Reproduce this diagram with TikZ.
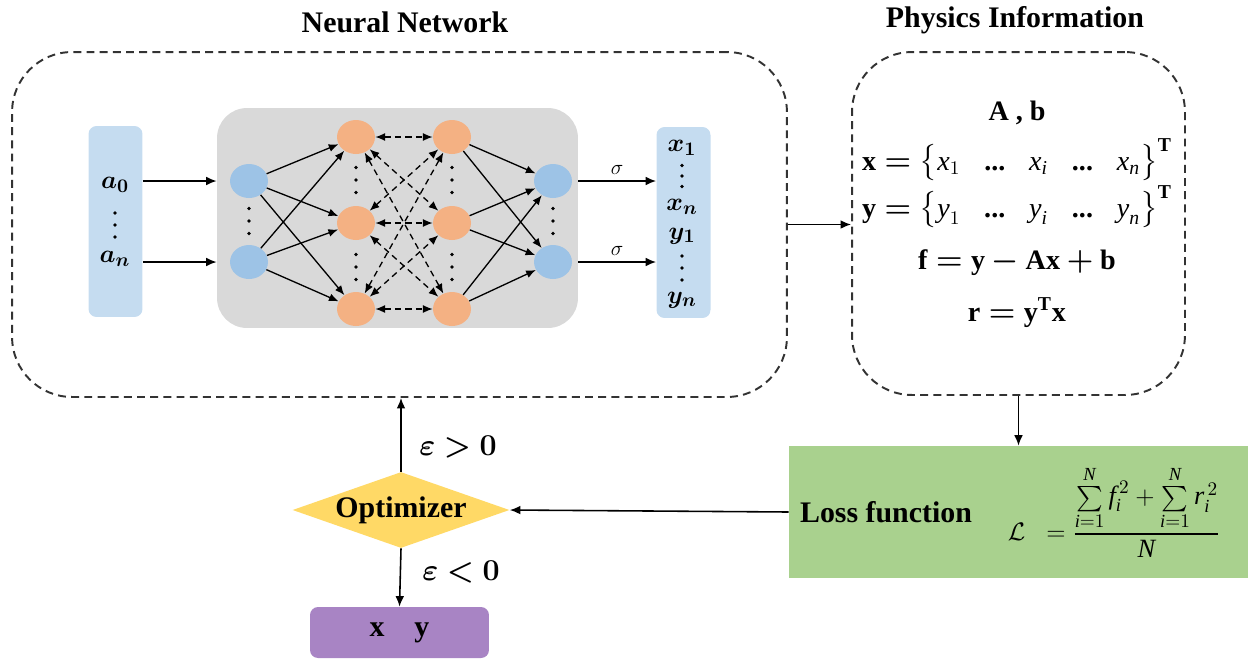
\documentclass[tikz,border=0pt]{standalone}
\usepackage{amsmath}
\usepackage{bm}
\usepackage{fontspec}
\setmainfont{Liberation Serif}
\usetikzlibrary{shapes.geometric,arrows.meta}

\definecolor{inblue}{RGB}{197,220,240}
\definecolor{nodeblue}{RGB}{157,195,230}
\definecolor{nodeorange}{RGB}{244,177,131}
\definecolor{hidgray}{RGB}{217,217,217}
\definecolor{lossgreen}{RGB}{169,209,142}
\definecolor{optyellow}{RGB}{255,217,102}
\definecolor{respurple}{RGB}{168,132,196}

\tikzstyle{frame} = [rectangle, draw=black!80, line width=1.1pt, dash pattern=on 4.5pt off 3pt, rounded corners=1.2cm]
\tikzstyle{heading} = [font=\fontsize{17}{20}\selectfont\bfseries]
\tikzstyle{vecbox} = [rectangle, fill=inblue, rounded corners=0.16cm, minimum width=1.08cm, minimum height=3.82cm]
\tikzstyle{neuron} = [ellipse, minimum width=0.76cm, minimum height=0.68cm, inner sep=0pt]
\tikzstyle{eqline} = [font=\fontsize{16}{19}\selectfont\bfseries, inner sep=1pt]
\tikzstyle{veclabel} = [font=\fontsize{15}{18}\selectfont, inner sep=0pt]
\tikzstyle{arrow} = [-{Latex[length=6pt,width=5pt]}, line width=0.9pt]
\tikzstyle{nnarrow} = [-{Latex[length=5.5pt,width=4.5pt]}, line width=0.75pt]

\newcommand{\colvdots}[3][12.5]{\foreach \dy in {-#1,0,#1} {\fill (#2,#3+\dy) circle (0.038cm);}}
\newcommand{\el}[1]{\textnormal{\textit{#1}}}

\begin{document}
\begin{tikzpicture}[x=0.02cm, y=-0.02cm]
        \useasboundingbox (0,0) rectangle (1248,660);
        % Neural network part
        \node (nnbox) at (399.5,224.5) [frame, minimum width=15.5cm, minimum height=6.9cm] {};
        \node (nntitle) at (405,22) [heading] {Neural Network};
        \node (hidbox) at (397.5,218) [rectangle, fill=hidgray, rounded corners=0.6cm, minimum width=7.22cm, minimum height=4.4cm] {};
        \node (inbox) at (115.5,221.5) [vecbox] {};
        \node (outbox) at (683.5,222.5) [vecbox] {};

        \foreach \n/\y in {1/181, 2/262} {
            \node (i\n) at (249,\y) [neuron, fill=nodeblue] {};
            \node (o\n) at (553,\y) [neuron, fill=nodeblue] {};
        }
        \foreach \n/\y in {1/137, 2/223, 3/309} {
            \node (ha\n) at (356,\y) [neuron, fill=nodeorange] {};
            \node (hb\n) at (452,\y) [neuron, fill=nodeorange] {};
        }
        \foreach \i in {1,2}
            \foreach \j in {1,2,3} {
                \draw[nnarrow] (i\i) -- (ha\j);
                \draw[nnarrow] (hb\j) -- (o\i);
            }
        \foreach \j in {1,2,3}
            \foreach \k in {1,2,3}
                \draw[nnarrow, {Latex[length=5.5pt,width=4.5pt]}-{Latex[length=5.5pt,width=4.5pt]}, dash pattern=on 3.5pt off 2.5pt] (ha\j) -- (hb\k);

        \colvdots{249}{221}
        \colvdots{553}{221}
        \colvdots{356}{180}
        \colvdots{356}{267}
        \colvdots{452}{180}
        \colvdots{452}{267}
        \colvdots[12]{115}{225}
        \colvdots[10.5]{682}{176}
        \colvdots[12]{682}{268}

        \node (a0) at (115,185) [veclabel] {$\bm{a}_{\bm{0}}$};
        \node (an) at (115,259) [veclabel] {$\bm{a}_{\bm{n}}$};
        \node (x1) at (682,148) [veclabel] {$\bm{x}_{\bm{1}}$};
        \node (xn) at (682,207) [veclabel] {$\bm{x}_{\bm{n}}$};
        \node (y1) at (682,236) [veclabel] {$\bm{y}_{\bm{1}}$};
        \node (yn) at (682,300) [veclabel] {$\bm{y}_{\bm{n}}$};

        \draw[arrow] (inbox.east |- i1) -- (hidbox.west |- i1);
        \draw[arrow] (inbox.east |- i2) -- (hidbox.west |- i2);
        \draw[arrow] (hidbox.east |- o1) -- node[above, font=\large] {$\sigma$} (outbox.west |- o1);
        \draw[arrow] (hidbox.east |- o2) -- node[above, font=\large] {$\sigma$} (outbox.west |- o2);

        % Physics information
        \node (phys) at (1018.5,223.5) [frame, minimum width=6.66cm, minimum height=6.86cm] {};
        \node (phystitle) at (1015,20) [heading] {Physics Information};
        \node (pab) at (1017,113) [eqline] {A , b};
        \node (px) at (1017,160) [eqline] {$\textbf{x} \bm{=} \bigl\{\el{x}_{1} \hspace{0.85em} \textbf{...} \hspace{0.85em} \el{x}_{\el{i}} \hspace{0.85em} \textbf{...} \hspace{0.85em} \el{x}_{\el{n}}\bigr\}^{\textbf{T}}$};
        \node (py) at (1017,207) [eqline] {$\textbf{y} \bm{=} \bigl\{\el{y}_{1} \hspace{0.85em} \textbf{...} \hspace{0.85em} \el{y}_{\el{i}} \hspace{0.85em} \textbf{...} \hspace{0.85em} \el{y}_{\el{n}}\bigr\}^{\textbf{T}}$};
        \node (pf) at (1017,263) [eqline] {$\textbf{f} \bm{=} \textbf{y} \bm{-} \textbf{Ax} \bm{+} \textbf{b}$};
        \node (pr) at (1017,313) [eqline] {$\textbf{r} \bm{=} \textbf{y}^{\textbf{T}}\textbf{x}$};

        % Loss and optimizer
        \node (loss) at (1018.5,512) [rectangle, fill=lossgreen, minimum width=9.18cm, minimum height=2.64cm] {};
        \node (losstext) at (886,512) [heading] {Loss function};
        \node (lossfn) at (1114,512) [font=\fontsize{15}{18}\selectfont] {$\mathcal{L}\;\;=\dfrac{\sum\limits_{\textit{i}=1}^{\textit{N}} \textit{f}_{\textit{i}}^{\,2}+\sum\limits_{\textit{i}=1}^{\textit{N}} \textit{r}_{\textit{i}}^{\,2}}{\textit{N}}$};
        \node (opt) at (401,510) [diamond, fill=optyellow, aspect=2.86, minimum width=4.34cm, minimum height=1.52cm, inner sep=0pt, heading] {Optimizer};
        \node (res) at (399.5,632.5) [rectangle, fill=respurple, rounded corners=0.16cm, minimum width=3.58cm, minimum height=1.02cm, heading] {x\quad y};

        \draw[arrow] (nnbox.east) -- (nnbox.east -| phys.west);
        \draw[arrow] (phys.south) -- (loss.north);
        \draw[arrow] (loss.west) -- (opt.east);
        \draw[arrow] (opt.north) -- (opt.north |- nnbox.south);
        \draw[arrow] (opt.south) -- (res.north);
        \node (epsup) at (458,447) [heading] {$\bm{\varepsilon > 0}$};
        \node (epsdown) at (461,572) [heading] {$\bm{\varepsilon < 0}$};
\end{tikzpicture}
\end{document}
